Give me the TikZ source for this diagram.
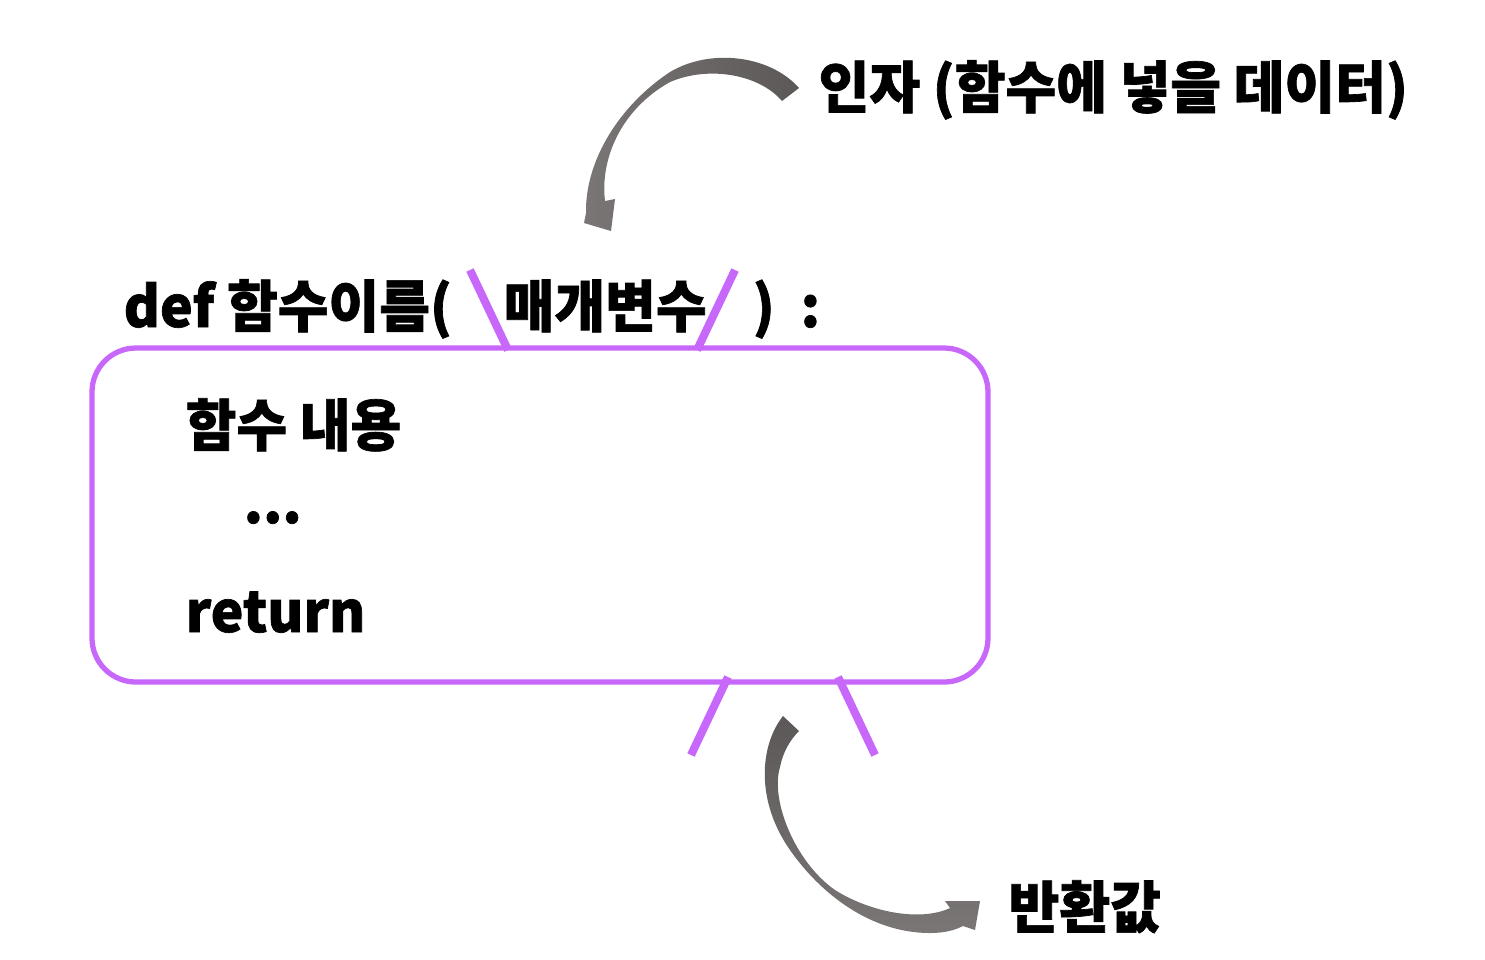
\documentclass[tikz,border=0pt]{standalone}
\usepackage{fontspec}
\newfontfamily\kofont{Noto Sans CJK KR}[FakeStretch=0.98, FakeBold=1.2]
\usepackage{tikz}
\definecolor{cutpurple}{RGB}{200,104,250}
\definecolor{arrowdark}{RGB}{92,88,87}
\definecolor{arrowlight}{RGB}{122,118,117}

\begin{document}
\begin{tikzpicture}[x=0.01cm, y=-0.01cm,
  kotext/.style={font=\kofont\bfseries\fontsize{16}{19}\selectfont, inner sep=0, anchor=base west},
  cut/.style={line width=2.3pt, cutpurple},
  funcbox/.style={line width=1.5pt, cutpurple, rounded corners=12.5pt}]
\useasboundingbox (0,0) rectangle (1485,959);
\draw[funcbox] (92,348) rectangle (988,682);
\node[kotext] (defline) at (123,327) {def 함수이름(};
\node[kotext] (param) at (503,327) {매개변수};
\node[kotext] (close) at (752,327) {)};
\node[kotext] (colon) at (800,327) {:};
\node[kotext] (body) at (185,446) {함수 내용};
\node[kotext] (dots) at (243,523) {...};
\node[kotext] (ret) at (185,632) {return};
\node[kotext] (arg) at (818,108) {인자 (함수에 넣을 데이터)};
\node[kotext] (retval) at (1008,928) {반환값};
\draw[cut] (470,270) -- (508,350);
\draw[cut] (735,270) -- (697,350);
\draw[cut] (728,677) -- (691,755);
\draw[cut] (838,677) -- (875,755);
%argument arrow
\shade[left color=arrowlight, right color=arrowdark]
(799,88) .. controls (770,55) and (710,48) .. (670,72)
.. controls (620,105) and (585,160) .. (586,213) -- (584,223) -- (611,231) -- (615,199) -- (605,201)
.. controls (600,160) and (620,110) .. (670,82)
.. controls (710,65) and (760,75) .. (782,101) -- cycle;
%return arrow
\shade[top color=arrowdark, bottom color=arrowlight]
(783,716) .. controls (760,745) and (755,800) .. (790,850)
.. controls (820,893) and (870,933) .. (930,933)
.. controls (945,933) and (955,930) .. (963,926) -- (975,930) -- (980,901) -- (945,901) -- (950,908)
.. controls (920,922) and (870,912) .. (835,890)
.. controls (795,862) and (770,800) .. (780,767)
.. controls (783,752) and (790,740) .. (799,731) -- cycle;
\end{tikzpicture}
\end{document}
